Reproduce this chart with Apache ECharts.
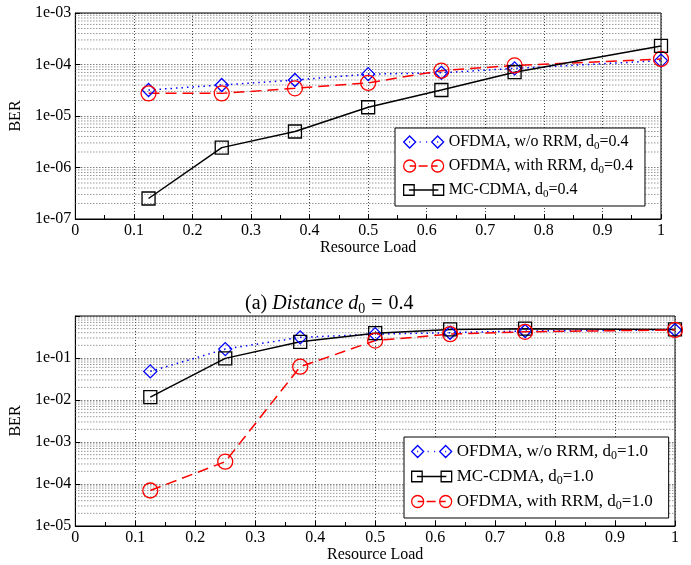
<!DOCTYPE html>
<html>
<head>
<meta charset="utf-8">
<script src="https://cdn.jsdelivr.net/npm/echarts@6/dist/echarts.min.js"></script>
<style>
  html, body { margin: 0; padding: 0; background: #fff; }
  #chart { width: 691px; height: 565px; }
</style>
</head>
<body>
<div id="chart"></div>
<script>
// resource load values (x)
var loads = [0.125, 0.25, 0.375, 0.5, 0.625, 0.75, 1.0];

// top plot, d0 = 0.4
var ofdmaNoRrm04 = [3.2e-5, 4.0e-5, 5.0e-5, 6.5e-5, 6.9e-5, 8.4e-5, 1.19e-4];
var ofdmaRrm04   = [2.75e-5, 2.75e-5, 3.45e-5, 4.4e-5, 7.6e-5, 9.6e-5, 1.28e-4];
var mcCdma04     = [2.5e-7, 2.43e-6, 5.0e-6, 1.48e-5, 3.2e-5, 7.1e-5, 2.29e-4];

// bottom plot, d0 = 1.0
var ofdmaNoRrm10 = [0.048, 0.163, 0.31, 0.37, 0.40, 0.44, 0.466];
var mcCdma10     = [0.0117, 0.098, 0.243, 0.39, 0.48, 0.50, 0.48];
var ofdmaRrm10   = [7.0e-5, 3.4e-4, 0.062, 0.26, 0.37, 0.42, 0.466];

// y decades (exponents) that get minor grid lines
var topDecades = [-7, -6, -5, -4];
var botDecades = [-5, -4, -3, -2, -1];

var names = {
  b04: 'OFDMA, w/o RRM, d0=0.4',
  r04: 'OFDMA, with RRM, d0=0.4',
  k04: 'MC-CDMA, d0=0.4',
  b10: 'OFDMA, w/o RRM, d0=1.0',
  k10: 'MC-CDMA, d0=1.0',
  r10: 'OFDMA, with RRM, d0=1.0'
};

var serif = 'Liberation Serif';

function pairs(ys) {
  return loads.map(function (x, i) { return [x, ys[i]]; });
}
function minorValues(decades) {
  var out = [];
  decades.forEach(function (k) {
    for (var m = 2; m <= 9; m++) out.push(m * Math.pow(10, k));
  });
  return out;
}
function expLabel(v) {
  var e = Math.round(Math.log10(v));
  if (e >= 0) return '';
  var a = Math.abs(e);
  return '1e-' + (a < 10 ? '0' + a : a);
}

// legend icons: line with a marker at each end (40 x 12)
var iconDiamond = 'path://M6 0L12 6L6 12L0 6ZM34 0L40 6L34 12L28 6Z' +
  'M5.5 6L6.5 6M16 6L17 6M22.5 6L23.5 6M33.5 6L34.5 6';
var iconCircle = 'path://M0 6A6 6 0 1 0 12 6A6 6 0 1 0 0 6ZM28 6A6 6 0 1 0 40 6A6 6 0 1 0 28 6Z' +
  'M6 6L12 6M15 6L24 6M28 6L34 6';
var iconSquare = 'path://M1 1L11 1L11 11L1 11ZM29 1L39 1L39 11L29 11ZM6 6L34 6';

var styles = {
  blue:  { color: '#0000ff', symbol: 'diamond', size: 13, dash: [1.5, 4], icon: iconDiamond },
  red:   { color: '#ff0000', symbol: 'circle', size: 15, dash: [11, 6], icon: iconCircle },
  black: { color: '#000000', symbol: 'rect', size: 13, dash: 'solid', icon: iconSquare }
};

function lineSeries(name, ys, st, idx) {
  return {
    name: name,
    type: 'line',
    xAxisIndex: idx,
    yAxisIndex: idx,
    data: pairs(ys),
    symbol: st.symbol,
    symbolSize: st.size,
    showAllSymbol: true,
    z: 3,
    lineStyle: { color: st.color, width: 1.5, type: st.dash },
    itemStyle: { color: 'transparent', borderColor: st.color, borderWidth: 1.3 },
    emphasis: { disabled: true }
  };
}

// minor log grid: one broken line per grid, one segment per minor value
function minorGrid(idx, decades) {
  var d = [];
  minorValues(decades).forEach(function (v) {
    d.push([0, v], [1, v], [1, '-']);
  });
  return {
    type: 'line',
    xAxisIndex: idx,
    yAxisIndex: idx,
    data: d,
    silent: true,
    z: 1,
    symbol: 'none',
    connectNulls: false,
    lineStyle: { color: '#666', width: 1, type: [1, 2] },
    emphasis: { disabled: true }
  };
}

function legendItem(name, st) {
  return {
    name: name,
    icon: st.icon,
    itemStyle: { color: 'transparent', borderColor: st.color, borderWidth: 1.3 }
  };
}

function legendFmt(name) {
  return name.replace('d0', 'd{s|0}');
}

function legendOpt(left, top, pad, size, items) {
  return {
    orient: 'vertical',
    left: left,
    top: top,
    padding: pad,
    itemGap: 6,
    itemWidth: 40,
    itemHeight: 12,
    backgroundColor: '#fff',
    borderColor: '#000',
    borderWidth: 1,
    selectedMode: false,
    formatter: legendFmt,
    textStyle: {
      fontFamily: serif, fontSize: size, color: '#000',
      rich: { s: { fontFamily: serif, fontSize: size - 5, padding: [9, 0, 0, 0], color: '#000' } }
    },
    data: items
  };
}

function xAxisOpt(idx) {
  return {
    type: 'value',
    gridIndex: idx,
    min: 0,
    max: 1,
    interval: 0.1,
    name: 'Resource Load',
    nameLocation: 'middle',
    nameGap: 21,
    nameTextStyle: { fontFamily: serif, fontSize: 16, color: '#000' },
    axisLine: { lineStyle: { color: '#000', width: 1 } },
    axisTick: { inside: true, length: 5, lineStyle: { color: '#000' } },
    minorTick: { show: true, splitNumber: 2, length: 4, lineStyle: { color: '#000' } },
    axisLabel: { fontFamily: serif, fontSize: 16, color: '#000', margin: 4 },
    splitLine: { show: true, lineStyle: { color: '#444', width: 1, type: [1, 2] } }
  };
}

function yAxisOpt(idx, min, max) {
  return {
    type: 'log',
    logBase: 10,
    gridIndex: idx,
    min: min,
    max: max,
    name: 'BER',
    nameLocation: 'middle',
    nameGap: 40,
    nameTextStyle: { fontFamily: serif, fontSize: 16, color: '#000' },
    axisLine: { lineStyle: { color: '#000', width: 1 } },
    axisTick: { inside: true, length: 5, lineStyle: { color: '#000' } },
    axisLabel: { fontFamily: serif, fontSize: 16, color: '#000', margin: 4, formatter: expLabel },
    splitLine: { show: true, lineStyle: { color: '#444', width: 1, type: [1, 2] } }
  };
}

var chart = echarts.init(document.getElementById('chart'), null, { renderer: 'canvas' });

chart.setOption({
  backgroundColor: '#fff',
  animation: false,
  title: {
    text: '(a) {i|Distance} {i|d}{s|0} {e|=} 0.4',
    left: 245,
    top: 292,
    padding: 0,
    textStyle: {
      fontFamily: serif,
      fontSize: 20,
      fontWeight: 'normal',
      color: '#000',
      rich: {
        i: { fontFamily: serif, fontSize: 20, fontStyle: 'italic', color: '#000' },
        s: { fontFamily: serif, fontSize: 14, padding: [10, 0, 0, 0], color: '#000' },
        e: { fontFamily: serif, fontSize: 20, padding: [0, 1, 0, 1], color: '#000' }
      }
    }
  },
  grid: [
    { left: 72, top: 13, width: 589, height: 206, show: true, borderColor: '#000', borderWidth: 1, backgroundColor: 'transparent' },
    { left: 73, top: 316, width: 602, height: 210, show: true, borderColor: '#000', borderWidth: 1, backgroundColor: 'transparent' }
  ],
  xAxis: [xAxisOpt(0), xAxisOpt(1)],
  yAxis: [yAxisOpt(0, 1e-7, 1e-3), yAxisOpt(1, 1e-5, 1)],
  legend: [
    legendOpt(395, 128, [6, 12, 6, 8], 16, [
      legendItem(names.b04, styles.blue),
      legendItem(names.r04, styles.red),
      legendItem(names.k04, styles.black)
    ]),
    legendOpt(404, 437, [6, 16, 6, 7], 17, [
      legendItem(names.b10, styles.blue),
      legendItem(names.k10, styles.black),
      legendItem(names.r10, styles.red)
    ])
  ],
  series: [
    minorGrid(0, topDecades),
    minorGrid(1, botDecades),
    lineSeries(names.b04, ofdmaNoRrm04, styles.blue, 0),
    lineSeries(names.r04, ofdmaRrm04, styles.red, 0),
    lineSeries(names.k04, mcCdma04, styles.black, 0),
    lineSeries(names.b10, ofdmaNoRrm10, styles.blue, 1),
    lineSeries(names.k10, mcCdma10, styles.black, 1),
    lineSeries(names.r10, ofdmaRrm10, styles.red, 1)
  ]
});
</script>
</body>
</html>
